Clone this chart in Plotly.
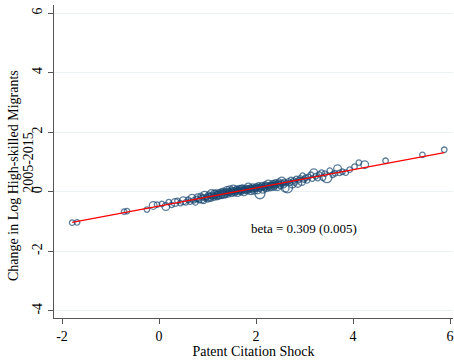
import numpy as np
import plotly.graph_objects as go

# Patent citation shock (x) and change in log high-skilled migrants (y), with weights
shock = [
    -1.79, -1.69, -0.72, -0.66, -0.25, -0.12, -0.04, 0.06, 0.14, 0.20, 0.26, 0.33, 0.38, 0.44, 0.50, 0.55, 0.60, 0.64, 0.68, 0.72, 0.75, 0.78,
    0.80, 0.83, 0.86, 0.88, 0.90, 0.92, 0.94, 0.96, 0.98, 1.00,
    1.02, 1.03, 1.05, 1.07, 1.08, 1.10, 1.11, 1.13, 1.14, 1.16, 1.17, 1.19,
    1.20, 1.21, 1.23, 1.24, 1.25, 1.27, 1.28, 1.30, 1.31, 1.32, 1.34, 1.35, 1.37, 1.38, 1.39,
    1.40, 1.41, 1.43, 1.44, 1.45, 1.46, 1.48, 1.49, 1.50, 1.51, 1.53, 1.54, 1.55, 1.56, 1.58, 1.59,
    1.60, 1.61, 1.62, 1.64, 1.65, 1.66, 1.67, 1.69, 1.70, 1.71, 1.72, 1.74, 1.75, 1.76, 1.78, 1.79,
    1.80, 1.81, 1.83, 1.84, 1.85, 1.87, 1.88, 1.89, 1.90, 1.92, 1.93, 1.95, 1.96, 1.97, 1.99,
    2.00, 2.01, 2.03, 2.04, 2.05, 2.07, 2.08, 2.09, 2.11, 2.12, 2.14, 2.15, 2.17, 2.18, 2.19,
    2.20, 2.22, 2.23, 2.25, 2.26, 2.28, 2.29, 2.31, 2.32, 2.34, 2.35, 2.37, 2.38, 2.39,
    2.40, 2.42, 2.44, 2.45, 2.47, 2.48, 2.50, 2.52, 2.53, 2.55, 2.57, 2.58, 2.60,
    2.62, 2.65, 2.67, 2.70, 2.72, 2.75, 2.78, 2.80, 2.83, 2.86, 2.88, 2.91, 2.94, 2.96, 2.99,
    3.02, 3.05, 3.08, 3.13, 3.16, 3.19, 3.23, 3.27, 3.30, 3.35, 3.38, 3.42, 3.46, 3.52, 3.58, 3.63, 3.68, 3.72, 3.78, 3.85, 3.93, 4.03, 4.12, 4.24, 4.67, 5.43, 5.88,
]
migrants = [
    -1.04, -1.03, -0.67, -0.65, -0.60, -0.46, -0.43, -0.41, -0.50, -0.35, -0.44, -0.36, -0.31, -0.38, -0.30, -0.36, -0.27, -0.33, -0.22, -0.29, -0.36, -0.24,
    -0.20, -0.28, -0.14, -0.25, -0.19, -0.31, -0.12, -0.22, -0.17, -0.26,
    -0.10, -0.19, -0.14, -0.23, -0.06, -0.16, -0.11, -0.20, -0.08, -0.14, -0.03, -0.18,
    -0.09, -0.12, -0.02, -0.15, -0.07, -0.10, 0.00, -0.13, -0.05, 0.03, -0.08, -0.02, -0.11, 0.01, -0.06,
    0.04, -0.03, -0.09, 0.02, -0.04, 0.07, -0.01, 0.05, -0.07, 0.02, 0.09, -0.02, 0.04, -0.05, 0.06, 0.00,
    0.10, 0.03, -0.03, 0.07, 0.01, 0.12, 0.05, -0.01, 0.08, 0.03, 0.14, 0.06, 0.00, 0.10, 0.04, 0.13,
    0.07, 0.02, 0.11, 0.16, 0.05, 0.09, 0.14, 0.03, 0.12, 0.07, 0.17, 0.10, 0.05, 0.14, 0.09,
    0.18, 0.12, 0.06, 0.15, 0.21, 0.10, -0.07, 0.17, 0.13, 0.22, 0.08, 0.16, 0.20, 0.12, 0.25,
    0.17, 0.10, 0.21, 0.26, 0.15, 0.20, 0.12, 0.24, 0.18, 0.29, 0.22, 0.14, 0.27, 0.20,
    0.31, 0.23, 0.17, 0.28, 0.34, 0.25, 0.19, 0.30, 0.36, 0.27, 0.22, 0.33, 0.12,
    0.29, 0.13, 0.35, 0.30, 0.40, 0.26, 0.37, 0.31, 0.43, 0.28, 0.39, 0.45, 0.34, 0.54, 0.41,
    0.47, 0.38, 0.50, 0.57, 0.44, 0.64, 0.52, 0.46, 0.58, 0.64, 0.47, 0.61, 0.47, 0.71, 0.57, 0.62, 0.77, 0.63, 0.67, 0.64, 0.74, 0.84, 0.98, 0.91, 1.04, 1.24, 1.41,
]
weight = [
    1, 1, 1, 1, 1, 2, 1, 1, 2, 1, 1, 2, 1, 1, 2, 1, 1, 1, 2, 1, 1, 1,
    2, 1, 1, 2, 1, 1, 2, 1, 1, 1,
    1, 2, 1, 1, 2, 1, 1, 1, 2, 1, 1, 1,
    1, 2, 1, 1, 1, 2, 1, 1, 1, 1, 2, 1, 1, 1, 1,
    2, 1, 1, 1, 1, 2, 1, 1, 1, 1, 2, 1, 1, 1, 1, 1,
    1, 1, 2, 1, 1, 1, 1, 1, 2, 1, 1, 1, 2, 1, 1, 1,
    1, 1, 1, 2, 1, 1, 1, 2, 1, 1, 1, 1, 2, 1, 1,
    1, 1, 2, 1, 1, 1, 3, 1, 1, 1, 2, 1, 1, 1, 1,
    1, 1, 1, 2, 1, 1, 1, 1, 2, 1, 1, 1, 1, 1,
    1, 1, 2, 1, 1, 1, 1, 1, 2, 1, 1, 1, 2,
    1, 3, 1, 1, 1, 2, 1, 1, 1, 2, 1, 1, 2, 1, 1,
    1, 1, 1, 1, 1, 2, 1, 1, 1, 1, 1, 1, 3, 1, 1, 1, 2, 1, 1, 1, 1, 1, 1, 2, 1, 1, 1,
]
assert len(shock) == len(migrants) == len(weight)

x_ticks = [-2, 0, 2, 4, 6]
x_tick_labels = ["-2", "0", "2", "4", "6"]
y_ticks = [-4, -2, 0, 2, 4, 6]
y_tick_labels = ["-4", "-2", "0", "2", "4", "6"]
beta_text = "beta = 0.309 (0.005)"

x = np.array(shock)
y = np.array(migrants)
w = np.array(weight, dtype=float)
slope, intercept = np.polyfit(x, y, 1, w=np.sqrt(w))
xl = np.array([x.min(), x.max()])
yl = intercept + slope * xl

navy = "#1a476f"
serif = "Liberation Serif, Times New Roman, serif"

fig = go.Figure()
fig.add_trace(go.Scatter(
    x=shock, y=migrants, mode="markers",
    marker=dict(symbol="circle-open", color=navy, size=[5.5 + 2.2 * (v - 1) for v in weight],
                line=dict(width=1.3, color=navy)),
    showlegend=False, hoverinfo="skip"))
fig.add_trace(go.Scatter(x=xl, y=yl, mode="lines", line=dict(color="#ff0000", width=1.2),
                         showlegend=False, hoverinfo="skip"))

fig.add_annotation(x=2.98, y=-1.24, text=beta_text, showarrow=False,
                   font=dict(family=serif, size=13, color="#000"))
fig.add_annotation(x=-0.1, xref="paper", xanchor="center", y=0.454, yref="paper", yanchor="middle",
                   text="Change in Log High-skilled Migrants",
                   textangle=-90, showarrow=False, font=dict(family=serif, size=14, color="#000"))
fig.add_annotation(x=-0.066, xref="paper", xanchor="center", y=0.498, yref="paper", yanchor="middle",
                   text="2005-2015",
                   textangle=-90, showarrow=False, font=dict(family=serif, size=14, color="#000"))

fig.update_layout(
    width=454, height=360,
    margin=dict(l=54, r=1, t=5, b=42),
    paper_bgcolor="white", plot_bgcolor="white",
    font=dict(family=serif, size=14, color="#000"),
    xaxis=dict(range=[-2.165, 6.06], tickvals=x_ticks, ticktext=x_tick_labels, ticks="outside", ticklen=5,
               tickcolor="#555", showline=True, linecolor="#555", linewidth=1.3,
               showgrid=False, zeroline=False,
               title=dict(text="Patent Citation Shock", font=dict(family=serif, size=14), standoff=2)),
    yaxis=dict(range=[-4.24, 6.27], tickvals=y_ticks, ticktext=y_tick_labels, ticks="outside", ticklen=5,
               tickcolor="#555", showline=True, linecolor="#555", linewidth=1.3,
               tickangle=-90, showgrid=True, gridcolor="#eaf2f3", gridwidth=1, zeroline=False),
)

fig.write_html("out.html")
